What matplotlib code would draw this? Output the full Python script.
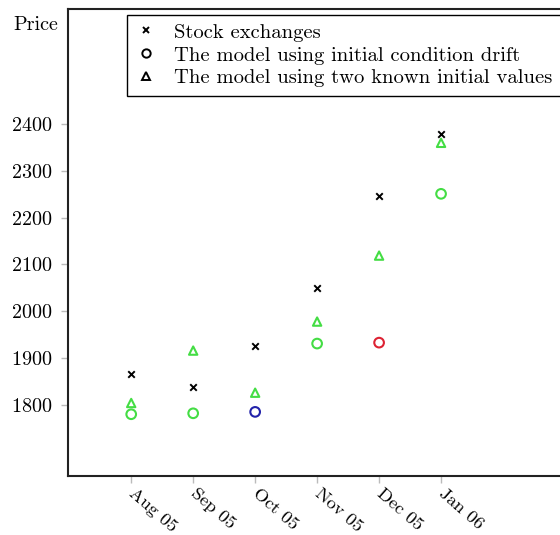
import matplotlib
matplotlib.use("Agg")
import matplotlib.pyplot as plt
import matplotlib.transforms as mtransforms

plt.rcParams['font.family'] = ['cmr10', 'DejaVu Serif']
plt.rcParams['mathtext.fontset'] = 'cm'
plt.rcParams['axes.formatter.use_mathtext'] = True

months = ['Aug 05', 'Sep 05', 'Oct 05', 'Nov 05', 'Dec 05', 'Jan 06']
stock = [1866, 1838, 1926, 2050, 2247, 2379]
drift = [1780, 1782, 1785, 1931, 1933, 2251]
drift_colors = ['#44dd44', '#44dd44', '#2222aa', '#44dd44', '#dd2233', '#44dd44']
two_vals = [1804, 1916, 1826, 1978, 2119, 2360]
yticks = [1800, 1900, 2000, 2100, 2200, 2300, 2400]

x = list(range(len(months)))

fig = plt.figure(figsize=(5.6, 5.35), dpi=100)
ax = fig.add_axes([68 / 560, 1 - 476 / 535, 497 / 560, 467 / 535])

ax.scatter(x, stock, marker='x', s=22, color='black', linewidths=1.4, zorder=3)
ax.scatter(x, drift, marker='o', s=48, facecolors='none', edgecolors=drift_colors,
           linewidths=1.5, zorder=3)
ax.scatter(x, two_vals, marker='^', s=36, facecolors='none', edgecolors='#44dd44',
           linewidths=1.5, zorder=3)

# black legend entries
h1, = ax.plot([], [], 'x', color='black', ms=5, mew=1.4)
h2, = ax.plot([], [], 'o', mfc='none', mec='black', ms=6, mew=1.4)
h3, = ax.plot([], [], '^', mfc='none', mec='black', ms=6, mew=1.4)
leg = ax.legend([h1, h2, h3],
                ['Stock exchanges', 'The model using initial condition drift',
                 'The model using two known initial values'],
                loc='upper left', bbox_to_anchor=(127 / 560, 1 - 15 / 535),
                bbox_transform=fig.transFigure, borderaxespad=0, fontsize=14.8,
                fancybox=False, edgecolor='black', framealpha=1,
                handlelength=1.0, handletextpad=0.9, labelspacing=0.22,
                borderpad=0.4)
leg.get_frame().set_linewidth(1.0)

ax.set_xlim(-1.02, 7.0)
ax.set_ylim(1648, 2646)
ax.set_xticks(x)
ax.set_xticklabels(months, rotation=-41, ha='left', va='center',
                   rotation_mode='anchor', fontsize=13.2)
shift = mtransforms.ScaledTranslation(15 / 100, 10 / 100, fig.dpi_scale_trans)
for lbl in ax.get_xticklabels():
    lbl.set_transform(lbl.get_transform() + shift)
ax.set_yticks(yticks)
ax.tick_params(axis='both', direction='out', length=5, color='#bbbbbb', width=1)
ax.tick_params(axis='y', labelsize=14.5, pad=6)
ax.tick_params(axis='x', pad=6)

for s in ax.spines.values():
    s.set_linewidth(1.5)
    s.set_color('#222222')

ax.text(-0.02, 0.985, 'Price', transform=ax.transAxes, ha='right', va='top',
        fontsize=14.5)

plt.savefig('out.png', dpi=100)
